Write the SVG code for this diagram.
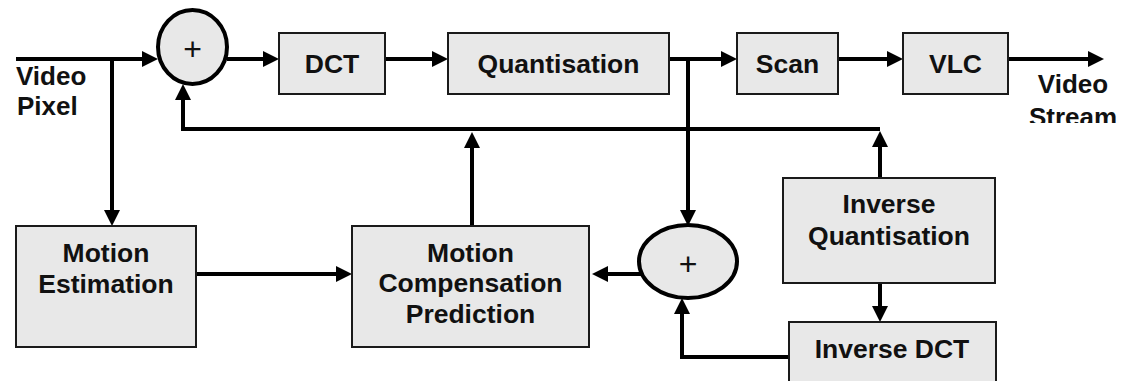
<svg xmlns="http://www.w3.org/2000/svg" width="1123" height="381" viewBox="0 0 1123 381">
<style>
.box{fill:#e8e8e8;stroke:#1a1a1a;stroke-width:2}
.sum{fill:#e8e8e8;stroke:#000;stroke-width:4}
.lbl{font-family:"Liberation Sans",Arial,sans-serif;font-weight:bold;font-size:26.5px;fill:#111;text-anchor:middle}
.plus{font-family:"Liberation Sans",Arial,sans-serif;font-size:32px;fill:#111;text-anchor:middle}
.ext{font-family:"Liberation Sans",Arial,sans-serif;font-weight:bold;font-size:26px;fill:#111}
.con{fill:none;stroke:#000;stroke-width:4;stroke-linejoin:miter}
</style>
<defs>
<marker id="arr" markerUnits="userSpaceOnUse" markerWidth="16" markerHeight="16" refX="8" refY="8" orient="auto" viewBox="0 0 16 16">
<path d="M0,0 L16,8 L0,16 z" fill="#000"/>
</marker>
<clipPath id="clipStream"><rect x="1000" y="60" width="123" height="63"/></clipPath>
</defs>
<rect width="1123" height="381" fill="#fff"/>
<g id="connectors">
<path class="con" d="M16 59 H150" marker-end="url(#arr)"/>
<path class="con" d="M112 59 V218" marker-end="url(#arr)"/>
<path class="con" d="M227 59 H271" marker-end="url(#arr)"/>
<path class="con" d="M385 59 H440" marker-end="url(#arr)"/>
<path class="con" d="M669 59 H729" marker-end="url(#arr)"/>
<path class="con" d="M838 59 H895" marker-end="url(#arr)"/>
<path class="con" d="M1008 59 H1096" marker-end="url(#arr)"/>
<path class="con" d="M688 59 V218" marker-end="url(#arr)"/>
<path class="con" d="M880 178 V139" marker-end="url(#arr)"/>
<path class="con" d="M880 129 H183 V92" marker-end="url(#arr)"/>
<path class="con" d="M472 226 V140" marker-end="url(#arr)"/>
<path class="con" d="M196 274 H344" marker-end="url(#arr)"/>
<path class="con" d="M645 274 H600" marker-end="url(#arr)"/>
<path class="con" d="M880 283 V314" marker-end="url(#arr)"/>
<path class="con" d="M789 357 H682 V306" marker-end="url(#arr)"/>
</g>
<g id="sum1">
<ellipse class="sum" cx="192.5" cy="47" rx="34.5" ry="37"/>
<text class="plus" x="192.5" y="60">+</text>
</g>
<g id="dct">
<rect class="box" x="279" y="33" width="106" height="61"/>
<text class="lbl" x="332" y="73">DCT</text>
</g>
<g id="quant">
<rect class="box" x="448" y="33" width="221" height="61"/>
<text class="lbl" x="558.5" y="73">Quantisation</text>
</g>
<g id="scan">
<rect class="box" x="737" y="33" width="101" height="61"/>
<text class="lbl" x="787.5" y="73">Scan</text>
</g>
<g id="vlc">
<rect class="box" x="903" y="33" width="105" height="61"/>
<text class="lbl" x="955.5" y="73">VLC</text>
</g>
<g id="videoPixel">
<text class="ext" x="16" y="85">Video</text>
<text class="ext" x="17" y="115">Pixel</text>
</g>
<g id="videoStream" clip-path="url(#clipStream)">
<text class="ext" x="1073" y="93" text-anchor="middle">Video</text>
<text class="ext" x="1073" y="126" text-anchor="middle">Stream</text>
</g>
<g id="motionEstimation">
<rect class="box" x="16" y="226" width="180" height="121"/>
<text class="lbl" x="106" y="262">Motion</text>
<text class="lbl" x="106" y="293">Estimation</text>
</g>
<g id="motionCompensation">
<rect class="box" x="352" y="226" width="237" height="121"/>
<text class="lbl" x="470.5" y="262">Motion</text>
<text class="lbl" x="470.5" y="292">Compensation</text>
<text class="lbl" x="470.5" y="323">Prediction</text>
</g>
<g id="sum2">
<ellipse class="sum" cx="688" cy="261.5" rx="49" ry="36.5"/>
<text class="plus" x="688" y="275">+</text>
</g>
<g id="inverseQuant">
<rect class="box" x="783" y="178" width="212" height="105"/>
<text class="lbl" x="889" y="213">Inverse</text>
<text class="lbl" x="889" y="245">Quantisation</text>
</g>
<g id="inverseDct">
<rect class="box" x="789" y="322" width="207" height="70"/>
<text class="lbl" x="892" y="358">Inverse DCT</text>
</g>
</svg>
